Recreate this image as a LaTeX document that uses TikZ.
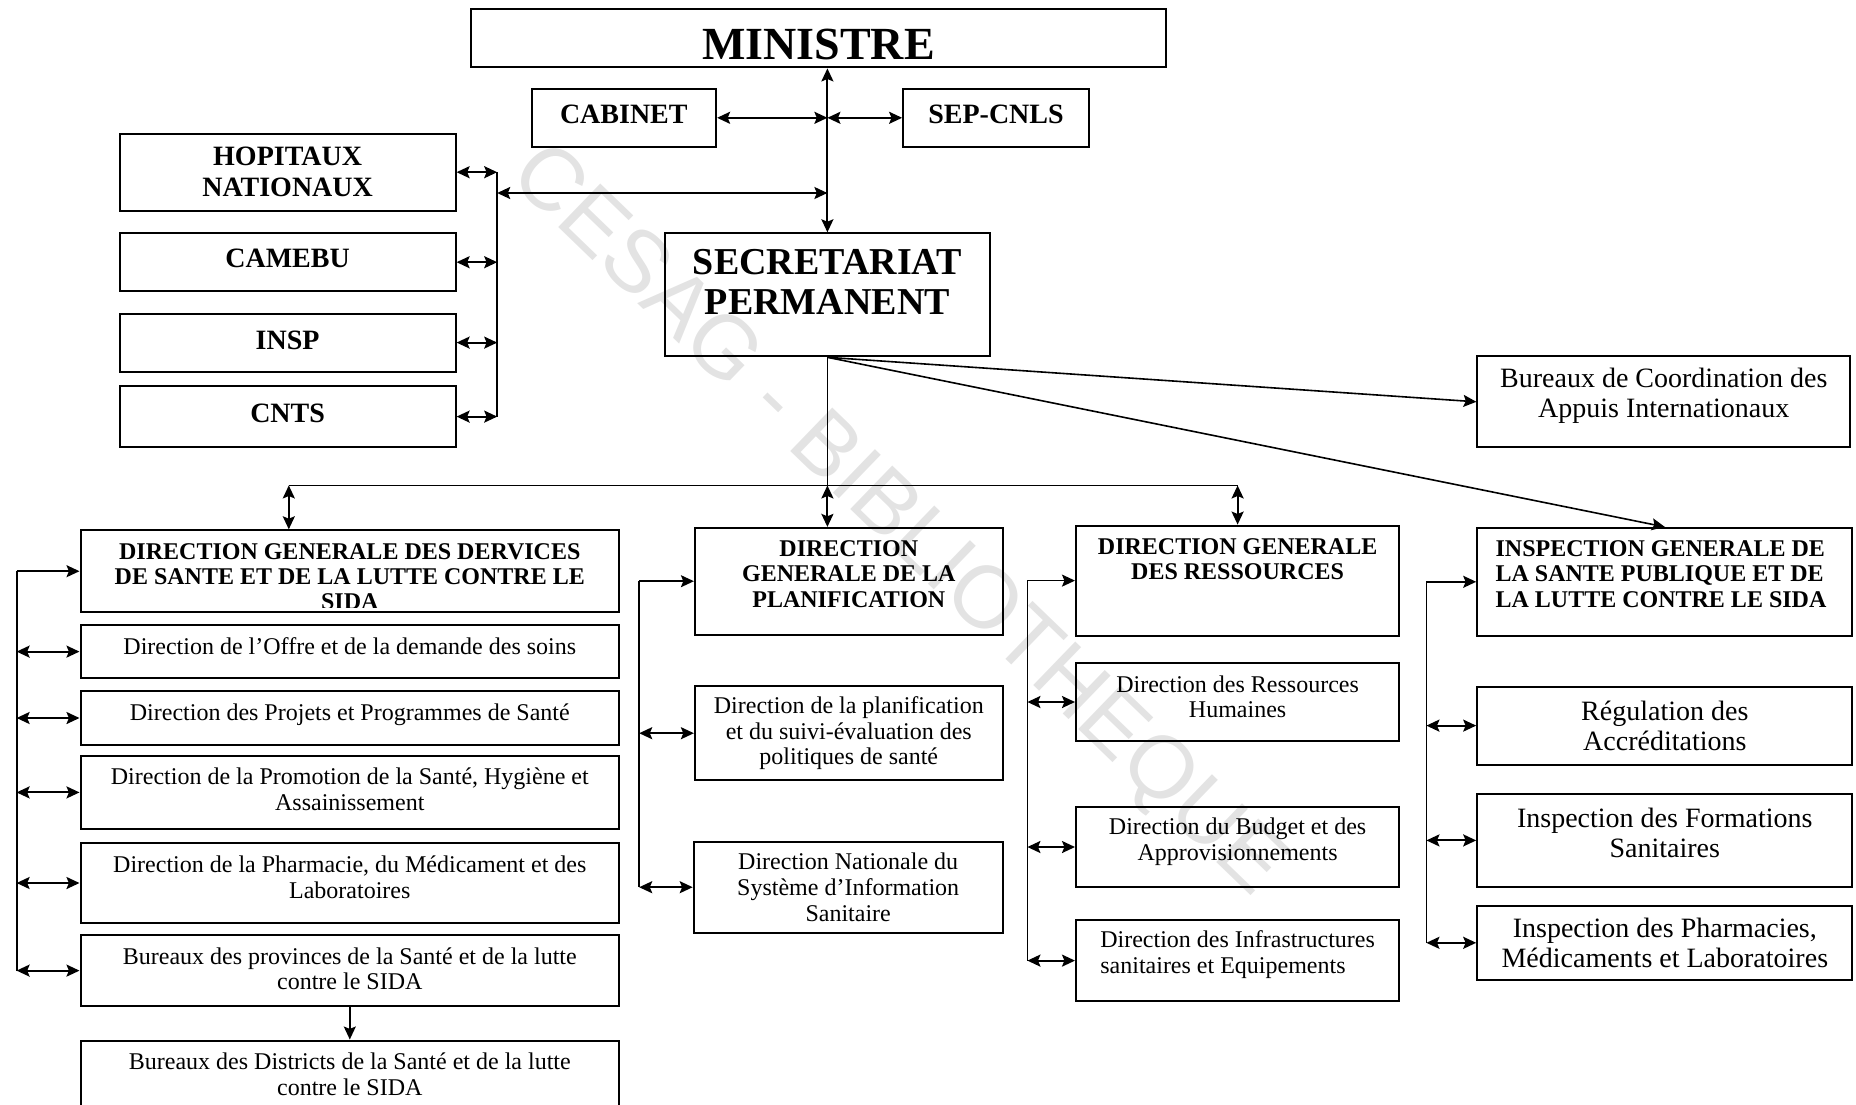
\documentclass[tikz,border=0pt]{standalone}
\usepackage{fontspec}
\setmainfont{Liberation Serif}
\setsansfont{Liberation Sans}
\usetikzlibrary{positioning,arrows.meta,calc}
\newcommand{\txtlift}[1]{\rule[-#1]{0pt}{#1}}

\begin{document}
\begin{tikzpicture}[
    x=1pt, y=-1pt,
    >={Stealth[length=6.5pt,width=6pt,inset=1.2pt]},
    orgbox/.style={rectangle, draw=black, line width=1pt, align=center,
                   inner sep=2pt, font=\fontsize{12}{12.8}\selectfont},
    headbox/.style={orgbox, font=\fontsize{14}{15.4}\selectfont\bfseries},
    bigbox/.style={orgbox, font=\fontsize{14}{15}\selectfont},
    dgtext/.style={inner sep=0pt, anchor=north, align=center,
                   font=\fontsize{12}{12.7}\selectfont\bfseries},
    link/.style={line width=0.9pt},
    dlink/.style={<->, line width=1pt},
    slink/.style={->, line width=0.8pt}
]
\useasboundingbox (0,0) rectangle (928,552.2);

% watermark
\node[font=\fontsize{44}{44}\selectfont\sffamily, text=gray!22, rotate=-44] (watermark) at (448,261) {CESAG - BIBLIOTHEQUE};

% Ministre and close services
\node[orgbox, minimum width=347.4pt, minimum height=29pt, text height=21.2pt,
      font=\fontsize{23}{24}\selectfont\bfseries] (ministre) at (409.3,19.2) {MINISTRE};
\node[headbox, minimum width=92.3pt, minimum height=29pt] (cabinet) at (311.9,58.9) {CABINET\txtlift{4pt}};
\node[headbox, minimum width=92.9pt, minimum height=29pt] (sepcnls) at (498.0,58.9) {SEP-CNLS\txtlift{4pt}};

% attached bodies
\node[headbox, minimum width=168pt, minimum height=38.5pt] (hopitaux) at (143.8,86.1) {HOPITAUX\\NATIONAUX};
\node[headbox, minimum width=168pt, minimum height=29pt] (camebu) at (143.8,131.1) {CAMEBU\txtlift{3.6pt}};
\node[headbox, minimum width=168pt, minimum height=29pt] (insp) at (143.8,171.3) {INSP\txtlift{2.4pt}};
\node[headbox, minimum width=168pt, minimum height=30.8pt] (cnts) at (143.8,208.3) {CNTS\txtlift{3.6pt}};

% Secretariat permanent
\node[orgbox, minimum width=162.2pt, minimum height=61.5pt] (sp) at (413.7,147.4) {};
\node[dgtext, font=\fontsize{19}{20}\selectfont\bfseries] (sptext) at ($(sp.north)+(0,8.5)$) {SECRETARIAT\\PERMANENT};

% DG services de sante
\node[orgbox, minimum width=269.3pt, minimum height=40.9pt] (dgs) at (174.9,285.6) {};
\begin{scope}
  \clip (dgs.north west) rectangle ($(dgs.south east)+(0,-3)$);
  \node[dgtext] (dgstext) at ($(dgs.north)+(0,6.7)$) {DIRECTION GENERALE DES DERVICES\\DE SANTE ET DE LA LUTTE CONTRE LE\\SIDA};
\end{scope}
\node[orgbox, minimum width=269.3pt, minimum height=26.6pt] (offre) at (174.9,325.8) {Direction de l’Offre et de la demande des soins\txtlift{5.4pt}};
\node[orgbox, minimum width=269.3pt, minimum height=26.6pt] (projets) at (174.9,359.0) {Direction des Projets et Programmes de Santé\txtlift{6.2pt}};
\node[orgbox, minimum width=269.3pt, minimum height=36.1pt] (promotion) at (174.9,396.2) {Direction de la Promotion de la Santé, Hygiène et\\Assainissement\txtlift{3pt}};
\node[orgbox, minimum width=269.3pt, minimum height=40.2pt] (pharmacie) at (174.9,441.5) {Direction de la Pharmacie, du Médicament et des\\Laboratoires\txtlift{6pt}};
\node[orgbox, minimum width=269.3pt, minimum height=35.5pt] (provinces) at (174.9,485.3) {Bureaux des provinces de la Santé et de la lutte\\contre le SIDA\txtlift{2pt}};
\node[orgbox, minimum width=269.3pt, minimum height=35.5pt] (districts) at (174.9,538.0) {Bureaux des Districts de la Santé et de la lutte\\contre le SIDA\txtlift{2pt}};

% DG planification
\node[orgbox, minimum width=153.9pt, minimum height=53.3pt] (dgp) at (424.4,290.6) {};
\node[dgtext] (dgptext) at ($(dgp.north)+(0,6.6)$) {DIRECTION\\GENERALE DE LA\\PLANIFICATION};
\node[orgbox, minimum width=153.9pt, minimum height=46.8pt] (planif) at (424.4,366.6) {Direction de la planification\\et du suivi-évaluation des\\politiques de santé};
\node[orgbox, minimum width=154.5pt, minimum height=45.6pt] (dnsis) at (424.1,443.6) {Direction Nationale du\\Système d’Information\\Sanitaire};

% DG ressources
\node[orgbox, minimum width=161.6pt, minimum height=55pt] (dgr) at (618.8,290.3) {};
\node[dgtext] (dgrtext) at ($(dgr.north)+(0,6.6)$) {DIRECTION GENERALE\\DES RESSOURCES};
\node[orgbox, minimum width=161.6pt, minimum height=39.1pt] (rh) at (618.8,351.0) {Direction des Ressources\\Humaines\txtlift{5.4pt}};
\node[orgbox, minimum width=161.6pt, minimum height=39.7pt] (budget) at (618.8,423.5) {Direction du Budget et des\\Approvisionnements\txtlift{8pt}};
\node[orgbox, minimum width=161.6pt, minimum height=40.8pt, align=left] (infra) at (618.8,480.3) {Direction des Infrastructures\\sanitaires et Equipements\txtlift{8.6pt}};

% inspection and coordination
\node[bigbox, minimum width=186.4pt, minimum height=45.6pt] (bureaux) at (831.9,200.9) {Bureaux de Coordination des\\Appuis Internationaux\txtlift{9pt}};
\node[orgbox, minimum width=187.6pt, minimum height=53.9pt] (igsp) at (832.4,290.9) {};
\node[dgtext, anchor=north west, align=left] (igsptext) at ($(igsp.north west)+(9.5,6.6)$) {INSPECTION GENERALE DE\\LA SANTE PUBLIQUE ET DE\\LA LUTTE CONTRE LE SIDA};
\node[bigbox, minimum width=187.6pt, minimum height=39.1pt] (regul) at (832.4,362.8) {Régulation des\\Accréditations};
\node[bigbox, minimum width=187.6pt, minimum height=46.2pt] (formations) at (832.4,420.2) {Inspection des Formations\\Sanitaires\txtlift{7.2pt}};
\node[bigbox, minimum width=187.6pt, minimum height=37.3pt] (pharmacies) at (832.4,471.4) {Inspection des Pharmacies,\\Médicaments et Laboratoires};

% bus lines
\coordinate (annex) at (248.6,96.5);
\coordinate (busL) at (144.4,242.7);
\coordinate (dgsbus) at (8.3,0);
\coordinate (dgpbus) at (319.6,0);
\coordinate (dgrbus) at (513.7,0);
\coordinate (igbus) at (713.2,0);

% links from the minister
\draw[dlink] (sp.north |- ministre.south) -- (sp.north);
\draw[dlink] (cabinet.east) -- (cabinet.east -| sp.north);
\draw[dlink] (sepcnls.west -| sp.north) -- (sepcnls.west);
\draw[link] (hopitaux.east -| annex) -- (cnts.east -| annex);
\foreach \n in {hopitaux,camebu,insp,cnts}
  \draw[dlink] (\n.east) -- (\n.east -| annex);
\draw[dlink] (annex) -- (annex -| sp.north);

% links from the secretariat
\draw[link] (sp.south) -- (sp.south |- busL);
\draw[link] (busL) -- (busL -| dgr.north);
\draw[dlink] (busL) -- (busL |- dgs.north);
\draw[dlink] (sp.south |- busL) -- (sp.south |- dgp.north);
\draw[dlink] (busL -| dgr.north) -- (dgr.north);
\draw[slink] (sp.south) -- (bureaux.west);
\draw[slink] (sp.south) -- (igsp.north);

% DGS column
\draw[link] (dgs.west -| dgsbus) -- (provinces.west -| dgsbus);
\draw[slink] (dgs.west -| dgsbus) -- (dgs.west);
\foreach \n in {offre,projets,promotion,pharmacie,provinces}
  \draw[dlink] (\n.west -| dgsbus) -- (\n.west);
\draw[slink] (provinces.south) -- (districts.north);

% DGP column
\draw[link] (dgp.west -| dgpbus) -- (dnsis.west -| dgpbus);
\draw[slink] (dgp.west -| dgpbus) -- (dgp.west);
\foreach \n in {planif,dnsis}
  \draw[dlink] (\n.west -| dgpbus) -- (\n.west);

% DGR column
\draw[link] (dgr.west -| dgrbus) -- (infra.west -| dgrbus);
\draw[slink] (dgr.west -| dgrbus) -- (dgr.west);
\foreach \n in {rh,budget,infra}
  \draw[dlink] (\n.west -| dgrbus) -- (\n.west);

% inspection column
\draw[link] (igsp.west -| igbus) -- (pharmacies.west -| igbus);
\draw[slink] (igsp.west -| igbus) -- (igsp.west);
\foreach \n in {regul,formations,pharmacies}
  \draw[dlink] (\n.west -| igbus) -- (\n.west);

\end{tikzpicture}
\end{document}
